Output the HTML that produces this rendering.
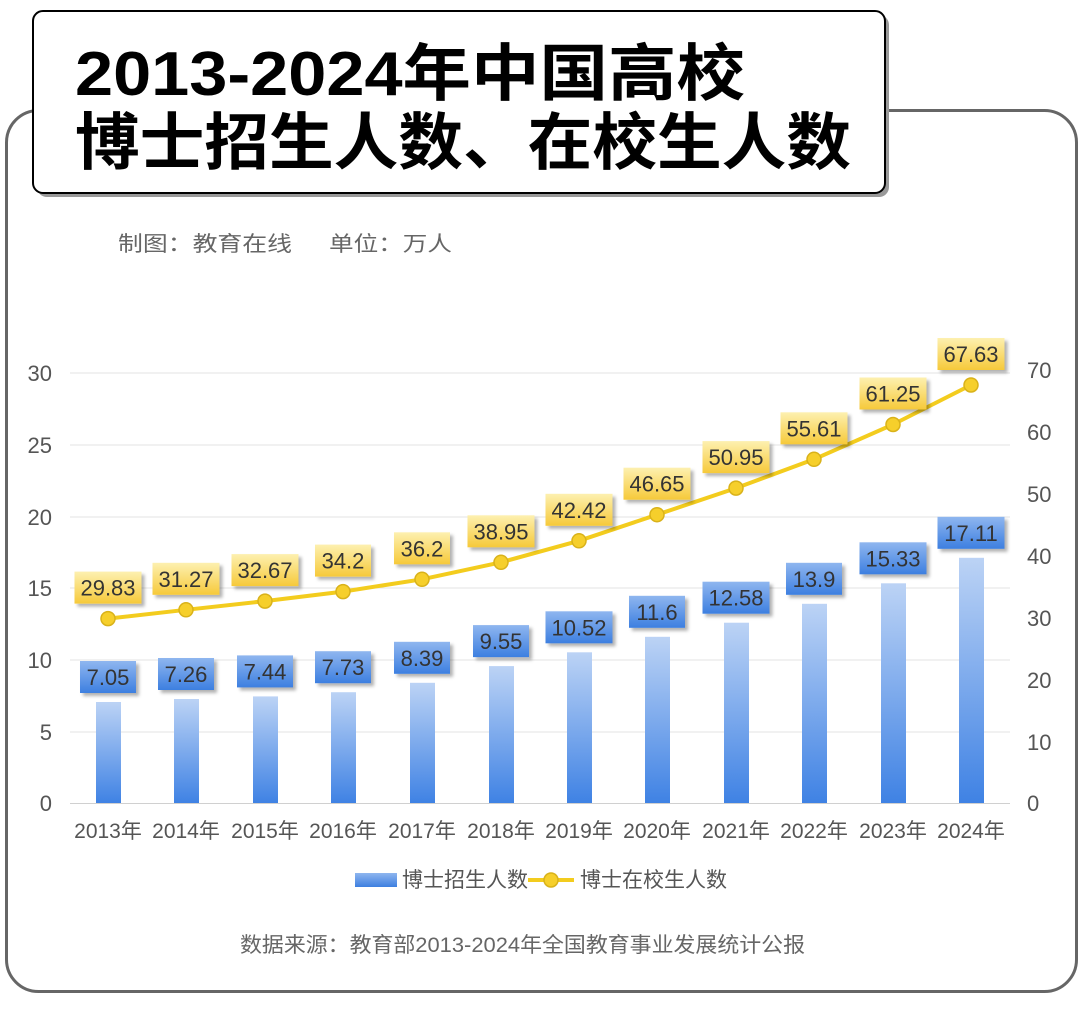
<!DOCTYPE html>
<html><head><meta charset="utf-8"><style>
body{margin:0;background:#fff;width:1080px;height:1011px;overflow:hidden}
</style></head><body>
<svg width="1080" height="1011" xmlns="http://www.w3.org/2000/svg" font-family="Liberation Sans, Noto Sans CJK SC, sans-serif">
<defs>
<linearGradient id="bar" x1="0" y1="0" x2="0" y2="1"><stop offset="0" stop-color="#bcd3f5"/><stop offset="1" stop-color="#3f82e4"/></linearGradient>
<linearGradient id="bb" x1="0" y1="0" x2="0" y2="1"><stop offset="0" stop-color="#8fb6ef"/><stop offset="1" stop-color="#3d7fe0"/></linearGradient>
<linearGradient id="yb" x1="0" y1="0" x2="0" y2="1"><stop offset="0" stop-color="#fdf0b0"/><stop offset="1" stop-color="#f6c93a"/></linearGradient>
<filter id="sh" x="-20%" y="-20%" width="150%" height="150%"><feDropShadow dx="3" dy="3" stdDeviation="1.5" flood-color="#000" flood-opacity="0.3"/></filter>
</defs>
<rect x="6.5" y="110.5" width="1070" height="881" rx="32" fill="#fff" stroke="#666" stroke-width="3"/>
<rect x="37" y="15" width="852" height="182" rx="10" fill="#999"/>
<rect x="33" y="11" width="852" height="182" rx="10" fill="#fff" stroke="#000" stroke-width="2"/>
<text x="75" y="95" font-size="62" font-weight="bold" fill="#000" textLength="670" lengthAdjust="spacingAndGlyphs">2013-2024年中国高校</text>
<text x="75" y="164" font-size="62" font-weight="bold" fill="#000" textLength="776" lengthAdjust="spacingAndGlyphs">博士招生人数、在校生人数</text>
<text x="118" y="251" font-size="21" fill="#666" textLength="174" lengthAdjust="spacingAndGlyphs">制图：教育在线</text>
<text x="329" y="251" font-size="21" fill="#666" textLength="123" lengthAdjust="spacingAndGlyphs">单位：万人</text>
<g stroke="#e3e3e3" stroke-width="1">
<line x1="70" x2="1010" y1="373" y2="373"/><line x1="70" x2="1010" y1="445" y2="445"/><line x1="70" x2="1010" y1="517" y2="517"/><line x1="70" x2="1010" y1="588" y2="588"/><line x1="70" x2="1010" y1="660" y2="660"/><line x1="70" x2="1010" y1="732" y2="732"/><line x1="70" x2="1010" y1="803.5" y2="803.5" stroke="#d0d0d0"/>
</g>
<g font-size="22" fill="#555" text-anchor="end">
<text x="52" y="381">30</text><text x="52" y="453">25</text><text x="52" y="525">20</text><text x="52" y="596">15</text><text x="52" y="668">10</text><text x="52" y="740">5</text><text x="52" y="811">0</text>
</g>
<g font-size="22" fill="#555">
<text x="1027" y="378">70</text><text x="1027" y="440">60</text><text x="1027" y="502">50</text><text x="1027" y="564">40</text><text x="1027" y="626">30</text><text x="1027" y="688">20</text><text x="1027" y="750">10</text><text x="1027" y="811">0</text>
</g>
<g fill="url(#bar)">
<rect x="96" y="702" width="25" height="101"/>
<rect x="174" y="699" width="25" height="104"/>
<rect x="253" y="696.4" width="25" height="106.6"/>
<rect x="331" y="692.2" width="25" height="110.8"/>
<rect x="410" y="682.8" width="25" height="120.2"/>
<rect x="489" y="666.1" width="25" height="136.9"/>
<rect x="567" y="652.3" width="25" height="150.7"/>
<rect x="645" y="636.8" width="25" height="166.2"/>
<rect x="724" y="622.7" width="25" height="180.3"/>
<rect x="802" y="603.8" width="25" height="199.2"/>
<rect x="881" y="583.3" width="25" height="219.7"/>
<rect x="959" y="557.8" width="25" height="245.2"/>
</g>
<g fill="url(#bb)" filter="url(#sh)">
<rect x="80" y="661" width="56" height="32"/>
<rect x="158" y="658" width="56" height="32"/>
<rect x="237" y="655.4" width="56" height="32"/>
<rect x="315" y="651.2" width="56" height="32"/>
<rect x="394" y="641.8" width="56" height="32"/>
<rect x="473" y="625.1" width="56" height="32"/>
<rect x="545.5" y="611.3" width="67" height="32"/>
<rect x="629" y="595.8" width="56" height="32"/>
<rect x="702.5" y="581.7" width="67" height="32"/>
<rect x="786" y="562.8" width="56" height="32"/>
<rect x="859.5" y="542.3" width="67" height="32"/>
<rect x="937.5" y="516.8" width="67" height="32"/>
</g>
<g font-size="22" fill="#333" text-anchor="middle">
<text x="108" y="685">7.05</text>
<text x="186" y="682">7.26</text>
<text x="265" y="679.4">7.44</text>
<text x="343" y="675.2">7.73</text>
<text x="422" y="665.8">8.39</text>
<text x="501" y="649.1">9.55</text>
<text x="579" y="635.3">10.52</text>
<text x="657" y="619.8">11.6</text>
<text x="736" y="605.7">12.58</text>
<text x="814" y="586.8">13.9</text>
<text x="893" y="566.3">15.33</text>
<text x="971" y="540.8">17.11</text>
</g>
<polyline points="108,618.6 186,609.8 265,601.1 343,591.6 422,579.3 501,562.3 579,540.8 657,514.7 736,488.1 814,459.3 893,424.5 971,385" fill="none" stroke="#f3cc1e" stroke-width="4"/>
<g fill="#f6cf2b" stroke="#d9b21a" stroke-width="1.5">
<circle cx="108" cy="618.6" r="7"/><circle cx="186" cy="609.8" r="7"/><circle cx="265" cy="601.1" r="7"/><circle cx="343" cy="591.6" r="7"/><circle cx="422" cy="579.3" r="7"/><circle cx="501" cy="562.3" r="7"/><circle cx="579" cy="540.8" r="7"/><circle cx="657" cy="514.7" r="7"/><circle cx="736" cy="488.1" r="7"/><circle cx="814" cy="459.3" r="7"/><circle cx="893" cy="424.5" r="7"/><circle cx="971" cy="385" r="7"/>
</g>
<g fill="url(#yb)" filter="url(#sh)">
<rect x="74.5" y="571.6" width="67" height="32"/>
<rect x="152.5" y="562.8" width="67" height="32"/>
<rect x="231.5" y="554.1" width="67" height="32"/>
<rect x="315" y="544.6" width="56" height="32"/>
<rect x="394" y="532.3" width="56" height="32"/>
<rect x="467.5" y="515.3" width="67" height="32"/>
<rect x="545.5" y="493.8" width="67" height="32"/>
<rect x="623.5" y="467.7" width="67" height="32"/>
<rect x="702.5" y="441.1" width="67" height="32"/>
<rect x="780.5" y="412.3" width="67" height="32"/>
<rect x="859.5" y="377.5" width="67" height="32"/>
<rect x="937.5" y="338" width="67" height="32"/>
</g>
<g font-size="22" fill="#333" text-anchor="middle">
<text x="108" y="595.6">29.83</text>
<text x="186" y="586.8">31.27</text>
<text x="265" y="578.1">32.67</text>
<text x="343" y="568.6">34.2</text>
<text x="422" y="556.3">36.2</text>
<text x="501" y="539.3">38.95</text>
<text x="579" y="517.8">42.42</text>
<text x="657" y="491.7">46.65</text>
<text x="736" y="465.1">50.95</text>
<text x="814" y="436.3">55.61</text>
<text x="893" y="401.5">61.25</text>
<text x="971" y="362">67.63</text>
</g>
<g font-size="21" fill="#555" text-anchor="middle">
<text x="108" y="838">2013年</text><text x="186" y="838">2014年</text><text x="265" y="838">2015年</text><text x="343" y="838">2016年</text><text x="422" y="838">2017年</text><text x="501" y="838">2018年</text><text x="579" y="838">2019年</text><text x="657" y="838">2020年</text><text x="736" y="838">2021年</text><text x="814" y="838">2022年</text><text x="893" y="838">2023年</text><text x="971" y="838">2024年</text>
</g>
<rect x="355" y="873" width="42" height="14" fill="url(#bb)"/>
<text x="402" y="887" font-size="21" fill="#555">博士招生人数</text>
<line x1="528" x2="574" y1="880" y2="880" stroke="#f3cc1e" stroke-width="4"/>
<circle cx="551" cy="880" r="7" fill="#f6cf2b" stroke="#d9b21a" stroke-width="1.5"/>
<text x="580" y="887" font-size="21" fill="#555">博士在校生人数</text>
<text x="240" y="952" font-size="21" fill="#666" textLength="565" lengthAdjust="spacingAndGlyphs">数据来源：教育部2013-2024年全国教育事业发展统计公报</text>
</svg>
</body></html>
